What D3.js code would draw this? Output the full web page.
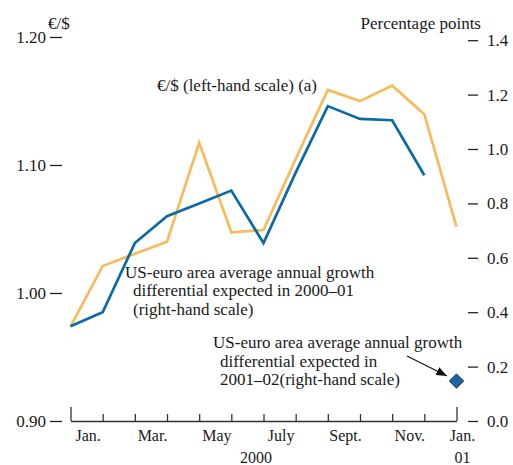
<!DOCTYPE html>
<html>
<head>
<meta charset="utf-8">
<script src="https://cdn.jsdelivr.net/npm/d3@7"></script>
<style>
  body { margin: 0; background: #fff; }
  text { font-family: "Liberation Serif", "Times New Roman", serif; fill: #1a1a1a; }
</style>
</head>
<body>
<svg width="513" height="465"></svg>
<script>
// months, Jan 2000 .. Jan 2001 (index 0..12)
var monthLabels = ["Jan.", "Mar.", "May", "July", "Sept.", "Nov."];
var monthLabelIdx = [0, 2, 4, 6, 8, 10];

// €/$ exchange rate, left-hand scale (Jan..Dec 2000)
var euroDollar = [0.974, 0.985, 1.039, 1.060, 1.070, 1.080, 1.039, 1.094, 1.146, 1.136, 1.135, 1.092];

// expected 2000-01 growth differential, right-hand scale (Jan 2000..Jan 2001)
var growthDiff = [0.347, 0.570, 0.615, 0.659, 1.023, 0.694, 0.702, 0.963, 1.217, 1.176, 1.233, 1.128, 0.714];

// expected 2001-02 growth differential (single point, Jan 2001)
var growthDiff0102 = [{ m: 12, v: 0.147 }];

var leftTicks = [0.90, 1.00, 1.10, 1.20];
var rightTicks = [0.0, 0.2, 0.4, 0.6, 0.8, 1.0, 1.2, 1.4];

var svg = d3.select("svg");

var x = d3.scaleLinear().domain([0, 12]).range([70.5, 456.5]);
var yL = d3.scaleLinear().domain([0.90, 1.20]).range([421, 37]);
var yR = d3.scaleLinear().domain([0, 1.4]).range([421, 40.2]);

// left axis
var gL = svg.append("g")
  .attr("transform", "translate(62,0)")
  .call(d3.axisLeft(yL).tickValues(leftTicks).tickSize(12).tickPadding(4).tickFormat(d3.format(".2f")));
gL.select(".domain").remove();

// right axis
var gR = svg.append("g")
  .attr("transform", "translate(468,0)")
  .call(d3.axisRight(yR).tickValues(rightTicks).tickSize(10).tickPadding(9).tickFormat(d3.format(".1f")));
gR.select(".domain").remove();

[gL, gR].forEach(function(g) {
  g.selectAll(".tick line").attr("stroke", "#222").attr("stroke-width", 1.3);
  g.selectAll(".tick text").attr("font-size", 17).attr("font-family", "Liberation Serif").attr("fill", "#1a1a1a");
});

// bottom axis
var gX = svg.append("g")
  .attr("transform", "translate(0,421)")
  .call(d3.axisBottom(x).tickValues(d3.range(13)).tickSize(-7).tickSizeOuter(0).tickFormat(""));
gX.select(".domain").attr("stroke", "#333").attr("stroke-width", 1.3);
gX.selectAll(".tick line").attr("stroke", "#333").attr("stroke-width", 1.3)
  .filter(function(d) { return d === 0 || d === 12; }).attr("y2", -14);

svg.append("g").selectAll("text")
  .data(monthLabelIdx)
  .enter().append("text")
  .attr("x", function(d) { return x(d + 0.55); })
  .attr("y", 441)
  .attr("text-anchor", "middle")
  .attr("font-size", 16)
  .text(function(d, i) { return monthLabels[i]; });

svg.append("text").attr("x", x(12) + 6).attr("y", 441).attr("text-anchor", "middle").attr("font-size", 16).text("Jan.");
svg.append("text").attr("x", x(12) + 6).attr("y", 463).attr("text-anchor", "middle").attr("font-size", 16).text("01");
svg.append("text").attr("x", 256).attr("y", 463).attr("text-anchor", "middle").attr("font-size", 16).text("2000");

// unit labels
svg.append("text").attr("x", 48).attr("y", 29).attr("font-size", 17).text("€/$");
svg.append("text").attr("x", 481).attr("y", 29).attr("text-anchor", "end").attr("font-size", 17).text("Percentage points");

// lines
var lineR = d3.line().x(function(d, i) { return x(i); }).y(function(d) { return yR(d); });
var lineL = d3.line().x(function(d, i) { return x(i); }).y(function(d) { return yL(d); });

svg.append("path").datum(growthDiff)
  .attr("d", lineR).attr("fill", "none").attr("stroke", "#f7bb5b").attr("stroke-width", 2.7).attr("stroke-linejoin", "miter");

svg.append("path").datum(euroDollar)
  .attr("d", lineL).attr("fill", "none").attr("stroke", "#0a6aa6").attr("stroke-width", 2.7).attr("stroke-linejoin", "miter");

// diamond
svg.selectAll(".diamond").data(growthDiff0102).enter().append("path")
  .attr("class", "diamond")
  .attr("transform", function(d) { return "translate(" + x(d.m) + "," + yR(d.v) + ")"; })
  .attr("d", d3.symbol().type(d3.symbolDiamond2).size(130))
  .attr("fill", "#1d64a4").attr("stroke", "#0b2a4a").attr("stroke-width", 1);

// annotations
svg.append("defs").append("marker")
  .attr("id", "arr").attr("viewBox", "0 0 10 10").attr("refX", 10).attr("refY", 5)
  .attr("markerWidth", 9).attr("markerHeight", 9).attr("orient", "auto")
  .append("path").attr("d", "M0,1 L10,5 L0,9 Z").attr("fill", "#111");

svg.append("line").attr("x1", 407).attr("y1", 356).attr("x2", 447).attr("y2", 376)
  .attr("stroke", "#111").attr("stroke-width", 1.2).attr("marker-end", "url(#arr)");

function para(lines, x0, indent, y0, dy) {
  var t = svg.append("text").attr("font-size", 17);
  lines.forEach(function(s, i) {
    t.append("tspan").attr("x", i === 0 ? x0 : x0 + indent).attr("y", y0 + i * dy).text(s);
  });
}

para(["€/$ (left-hand scale) (a)"], 157, 0, 91, 18);
para(["US-euro area average annual growth", "differential expected in 2000–01", "(right-hand scale)"], 125, 8, 278, 18.3);
para(["US-euro area average annual growth", "differential expected in", "2001–02(right-hand scale)"], 213, 7, 348, 18.5);
</script>
</body>
</html>
